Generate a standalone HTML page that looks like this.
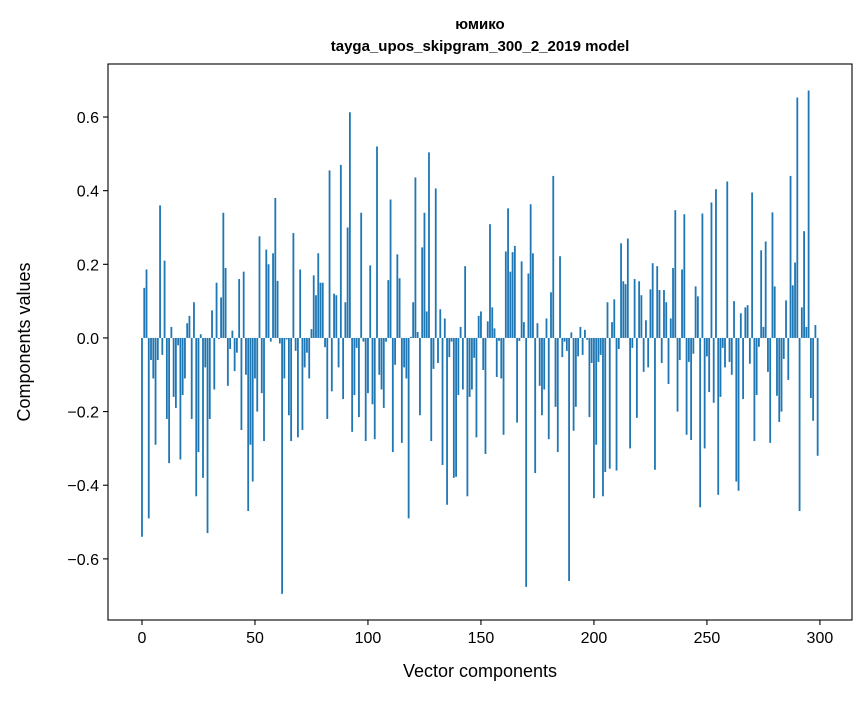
<!DOCTYPE html>
<html><head><meta charset="utf-8"><style>
body{margin:0;background:#fff;}
svg text{font-family:"Liberation Sans","DejaVu Sans",sans-serif;fill:#000;}
</style></head><body>
<svg id="chart" width="867" height="696" xmlns="http://www.w3.org/2000/svg">
<rect width="867" height="696" fill="#fff"/>
<text x="480" y="29" text-anchor="middle" font-size="15" font-weight="bold">юмико</text>
<text x="480" y="51" text-anchor="middle" font-size="15" font-weight="bold">tayga_upos_skipgram_300_2_2019 model</text>
<g id="bars"></g>
<g id="axes"></g>
<text x="480" y="677" text-anchor="middle" font-size="18">Vector components</text>
<text transform="translate(30,342) rotate(-90)" text-anchor="middle" font-size="18">Components values</text>
</svg>
<script>
const values = [
-0.54,0.136,0.186,-0.49,-0.06,-0.11,-0.29,-0.06,0.36,-0.046,
0.21,-0.22,-0.34,0.03,-0.16,-0.19,-0.02,-0.33,-0.155,-0.11,
0.04,0.06,-0.22,0.097,-0.43,-0.31,0.01,-0.38,-0.08,-0.53,
-0.22,0.075,-0.14,0.15,-0.003,0.11,0.34,0.19,-0.13,-0.03,
0.02,-0.09,-0.04,0.16,-0.25,0.18,-0.10,-0.47,-0.29,-0.39,
-0.11,-0.20,0.276,-0.15,-0.28,0.24,0.20,-0.01,0.23,0.38,
0.155,-0.015,-0.695,-0.11,-0.004,-0.21,-0.28,0.285,-0.035,-0.27,
0.186,-0.25,-0.08,-0.04,-0.11,0.024,0.17,0.116,0.23,0.15,
0.15,-0.025,-0.22,0.455,-0.145,0.12,0.116,-0.08,0.47,-0.166,
0.097,0.30,0.613,-0.255,-0.155,-0.027,-0.215,0.34,-0.01,-0.28,
-0.15,0.197,-0.18,-0.275,0.52,-0.10,-0.14,-0.19,-0.01,0.157,
0.376,-0.31,-0.073,0.227,0.162,-0.285,-0.08,-0.11,-0.49,0.003,
0.097,0.436,0.016,-0.21,0.246,0.34,0.072,0.504,-0.28,-0.084,
0.406,-0.068,0.078,-0.345,0.053,-0.453,-0.052,-0.01,-0.38,-0.377,
-0.155,0.03,-0.14,0.195,-0.43,-0.16,-0.14,-0.054,-0.27,0.06,
0.072,-0.087,-0.315,0.045,0.309,0.083,0.026,-0.106,-0.008,-0.11,
-0.263,0.235,0.352,0.18,0.233,0.25,-0.23,-0.008,0.208,0.043,
-0.676,0.175,0.363,0.23,-0.367,0.04,-0.13,-0.21,-0.14,0.053,
-0.275,0.124,0.44,-0.187,-0.31,0.222,-0.052,-0.01,-0.035,-0.66,
0.015,-0.252,-0.187,-0.05,0.03,-0.046,0.022,-0.005,-0.215,-0.068,
-0.435,-0.29,-0.065,-0.046,-0.43,-0.364,0.097,-0.355,0.043,0.105,
-0.36,-0.03,0.257,0.154,0.146,0.27,-0.30,-0.027,0.16,-0.217,
0.154,0.116,-0.092,0.048,-0.08,0.132,0.203,-0.358,0.195,0.13,
-0.068,0.13,0.097,-0.125,0.053,0.19,0.347,-0.20,-0.06,0.186,
0.336,-0.263,-0.065,-0.277,-0.043,0.14,0.113,-0.46,0.338,-0.30,
-0.05,-0.147,0.368,-0.176,0.404,-0.426,-0.16,-0.027,-0.08,0.425,
-0.065,-0.10,0.10,-0.39,-0.415,0.067,-0.166,0.083,0.089,-0.07,
0.395,-0.28,-0.155,-0.024,0.238,0.03,0.262,-0.092,-0.285,0.341,
0.14,-0.157,-0.228,-0.20,-0.057,0.102,-0.114,0.44,0.143,0.205,
0.653,-0.47,0.083,0.29,0.03,0.672,-0.163,-0.225,0.035,-0.32
];
const xTicks = [0,50,100,150,200,250,300];
const yTicks = [-0.6,-0.4,-0.2,0.0,0.2,0.4,0.6];

const L=108,R=852,T=64,B=620;
const xMin=-15.04,xMax=314.2,yMin=-0.766,yMax=0.744;
const sx=v=>L+(v-xMin)/(xMax-xMin)*(R-L);
const sy=v=>B-(v-yMin)/(yMax-yMin)*(B-T);
const NS="http://www.w3.org/2000/svg";
const bars=document.getElementById('bars');
values.forEach((v,i)=>{
  const r=document.createElementNS(NS,'rect');
  const x0=sx(i-0.4),x1=sx(i+0.4);
  const y0=sy(Math.max(v,0)),y1=sy(Math.min(v,0));
  r.setAttribute('x',x0);r.setAttribute('width',x1-x0);
  r.setAttribute('y',y0);r.setAttribute('height',Math.max(y1-y0,0.01));
  r.setAttribute('fill','#1f77b4');
  
  
  bars.appendChild(r);
});
const ax=document.getElementById('axes');
function el(tag,attrs,txt){const e=document.createElementNS(NS,tag);for(const k in attrs)e.setAttribute(k,attrs[k]);if(txt!==undefined)e.textContent=txt;ax.appendChild(e);return e;}
const frame=el('rect',{x:L,y:T,width:R-L,height:B-T,fill:'none',stroke:'#000','stroke-width':1.1});


xTicks.forEach(t=>{
  const x=sx(t);
  const ln=el('line',{x1:x,x2:x,y1:B,y2:B+5,stroke:'#000','stroke-width':1.1});
  
  
  const tx=el('text',{x:x,y:B+23,'text-anchor':'middle','font-size':16},String(t));
  
  
});
yTicks.forEach(t=>{
  const y=sy(t);
  const ln=el('line',{x1:L-5,x2:L,y1:y,y2:y,stroke:'#000','stroke-width':1.1});
  
  
  const lab=(t<0?'\u2212':'')+Math.abs(t).toFixed(1);
  const tx=el('text',{x:L-9,y:y+6,'text-anchor':'end','font-size':16},lab);
  
  
});
</script>
</body></html>
